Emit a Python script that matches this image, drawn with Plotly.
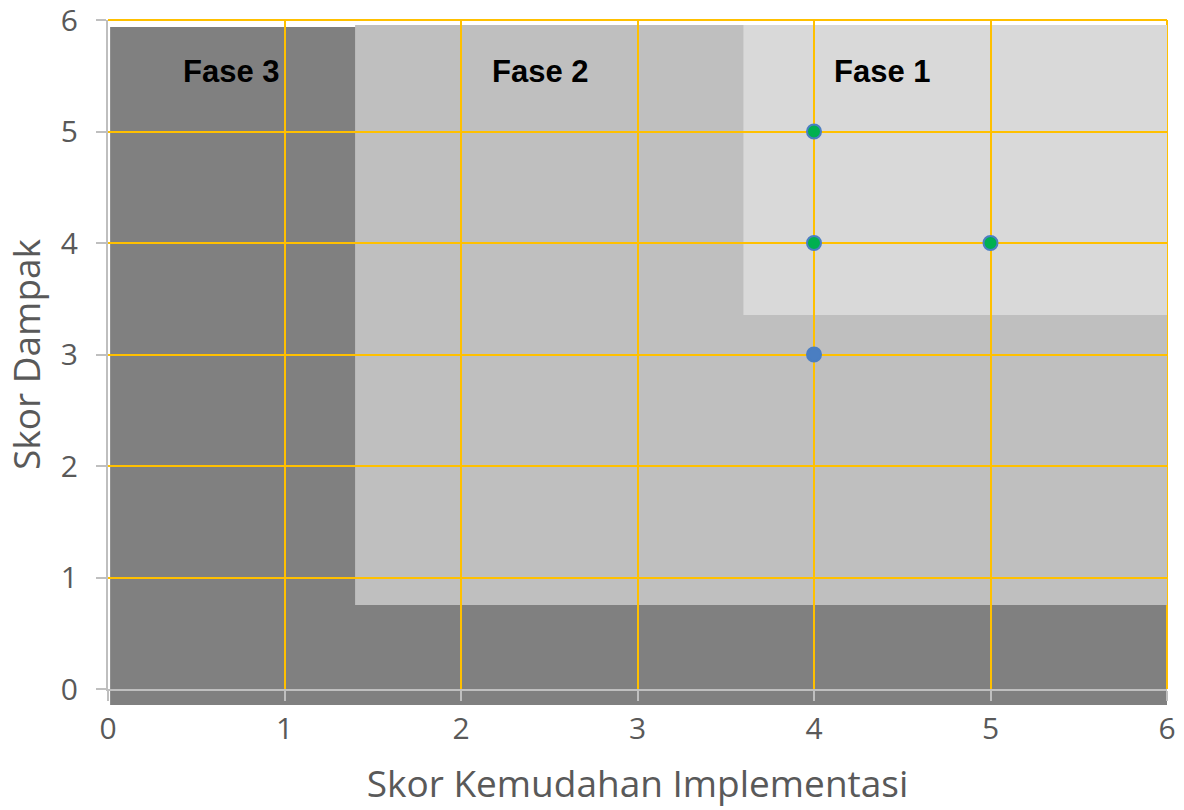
import plotly.graph_objects as go

# Scored initiatives: ease of implementation vs. impact
ease_scores = [4, 4, 5, 4]
impact_scores = [5, 4, 4, 3]
point_fill = ["#00B050", "#00B050", "#00B050", "#4A7EC2"]

# Phase zones (x0, x1, y0, y1) in score units
phase_names = ["Fase 3", "Fase 2", "Fase 1"]
phase_label_x = [0.70, 2.45, 4.39]
phase_label_y = [5.54, 5.54, 5.54]
zone2 = (1.40, 6.0, 0.753, 5.955)
zone1 = (3.60, 6.0, 3.354, 5.955)

axis_ticks = [0, 1, 2, 3, 4, 5, 6]

GOLD = "#FFC000"
TEXT = "#595959"
FONT = "Open Sans"

fig = go.Figure()

fig.add_trace(go.Scatter(
    x=ease_scores, y=impact_scores, mode="markers",
    marker=dict(size=14, color=point_fill, line=dict(color="#4A7EC2", width=2)),
    showlegend=False, hoverinfo="x+y",
))

# Phase 3 zone spans the full plot and runs slightly below the x axis
fig.add_shape(type="rect", xref="x", yref="paper",
              x0=0.012, x1=6.005, y0=-0.024, y1=0.9895,
              fillcolor="#808080", line=dict(width=0), layer="below")
fig.add_shape(type="rect", xref="x", yref="y",
              x0=zone2[0], x1=zone2[1], y0=zone2[2], y1=zone2[3],
              fillcolor="#BFBFBF", line=dict(width=0), layer="below")
fig.add_shape(type="rect", xref="x", yref="y",
              x0=zone1[0], x1=zone1[1], y0=zone1[2], y1=zone1[3],
              fillcolor="#D9D9D9", line=dict(width=0), layer="below")

# Grid lines along the top and right edges of the plot
fig.add_shape(type="line", xref="x", yref="paper", x0=0, x1=6, y0=1, y1=1,
              line=dict(color=GOLD, width=2), layer="between")
fig.add_shape(type="line", xref="paper", yref="y", x0=1, x1=1, y0=0, y1=6,
              line=dict(color=GOLD, width=2), layer="between")

for name, lx, ly in zip(phase_names, phase_label_x, phase_label_y):
    fig.add_annotation(x=lx, y=ly, text=f"<b>{name}</b>", showarrow=False,
                       font=dict(family="Liberation Sans", size=31, color="#000000"))

axis_common = dict(
    range=[0, 6], tickvals=axis_ticks, showgrid=True, gridcolor=GOLD, gridwidth=2,
    zeroline=False, showline=True, linecolor="#BFBFBF", linewidth=2,
    ticks="outside", ticklen=10, tickcolor="#BFBFBF", tickwidth=2,
    tickfont=dict(family=FONT, size=30, color=TEXT), automargin=False,
    ticklabeloverflow="allow",
)

fig.update_xaxes(**axis_common, ticklabelstandoff=2,
                 title=dict(text="Skor Kemudahan Implementasi", standoff=24,
                            font=dict(family=FONT, size=37, color=TEXT)))
fig.update_yaxes(**axis_common, ticklabelstandoff=12,
                 title=dict(text="Skor Dampak", standoff=16,
                            font=dict(family=FONT, size=37, color=TEXT)))

fig.update_layout(
    width=1184, height=810,
    margin=dict(l=108, r=17, t=20, b=121),
    paper_bgcolor="white", plot_bgcolor="white",
)

fig.write_html("out.html")
